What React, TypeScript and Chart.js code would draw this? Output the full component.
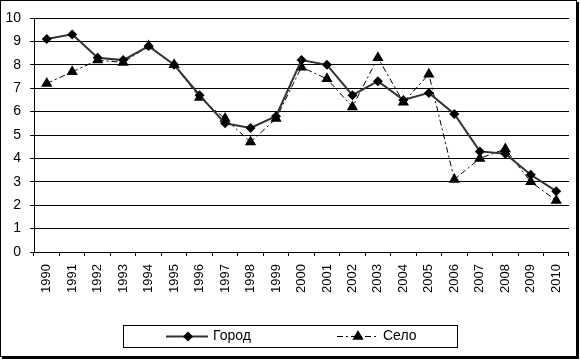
import React, { useEffect, useRef } from "react";
import { Chart, registerables } from "chart.js";

Chart.register(...registerables);

const years = ["1990","1991","1992","1993","1994","1995","1996","1997","1998","1999","2000","2001","2002","2003","2004","2005","2006","2007","2008","2009","2010"];
const gorod = [9.1, 9.3, 8.3, 8.2, 8.8, 8.0, 6.7, 5.5, 5.3, 5.8, 8.2, 8.0, 6.7, 7.3, 6.5, 6.8, 5.9, 4.3, 4.2, 3.3, 2.6];
const selo = [7.2, 7.7, 8.2, 8.1, 8.8, 8.0, 6.6, 5.7, 4.7, 5.7, 7.9, 7.4, 6.2, 8.3, 6.4, 7.6, 3.1, 4.0, 4.4, 3.0, 2.2];
const seriesNames = ["Город", "Село"];

const FONT = "'Liberation Sans', Arial, sans-serif";

function drawMarker(ctx: CanvasRenderingContext2D, style: string, x: number, y: number, r: number) {
  ctx.beginPath();
  if (style === "rectRot") {
    ctx.moveTo(x, y - r);
    ctx.lineTo(x + r, y);
    ctx.lineTo(x, y + r);
    ctx.lineTo(x - r, y);
  } else {
    const h = r * 1.5;
    const w = r * Math.sqrt(3);
    ctx.moveTo(x, y - r);
    ctx.lineTo(x + w / 2, y - r + h);
    ctx.lineTo(x - w / 2, y - r + h);
  }
  ctx.closePath();
  ctx.fill();
}

const framePlugin = {
  id: "frameAndLegend",
  afterDraw(chart: any) {
    const ctx: CanvasRenderingContext2D = chart.ctx;
    ctx.save();
    // outer frame with shadow
    ctx.strokeStyle = "#000";
    ctx.lineWidth = 1;
    ctx.strokeRect(0.5, 0.5, 576, 356);
    ctx.fillStyle = "#000";
    ctx.fillRect(576, 2, 3, 357);
    ctx.fillRect(2, 356, 577, 3);
    // legend box
    ctx.strokeRect(123.5, 325.5, 334, 22);
    const items = [
      { x1: 166, x2: 208, mx: 188, tx: 213 },
      { x1: 337, x2: 378, mx: 358, tx: 383 },
    ];
    const y = 336.5;
    chart.data.datasets.forEach((ds: any, i: number) => {
      const it = items[i];
      ctx.save();
      ctx.strokeStyle = ds.borderColor;
      ctx.lineWidth = ds.borderWidth;
      ctx.setLineDash(ds.borderDash || []);
      ctx.beginPath();
      ctx.moveTo(it.x1, y);
      ctx.lineTo(it.x2, y);
      ctx.stroke();
      ctx.restore();
      ctx.fillStyle = "#000";
      drawMarker(ctx, ds.pointStyle, it.mx, y, ds.pointRadius);
      ctx.fillStyle = "#000";
      ctx.font = `14px ${FONT}`;
      ctx.textBaseline = "middle";
      ctx.textAlign = "left";
      ctx.fillText(ds.label, it.tx, y);
    });
    ctx.restore();
  },
};

export default function App() {
  const ref = useRef<HTMLCanvasElement>(null);
  useEffect(() => {
    if (!ref.current) return;
    const chart = new Chart(ref.current, {
      type: "line",
      data: {
        labels: years,
        datasets: [
          {
            label: seriesNames[0],
            data: gorod,
            borderColor: "#333",
            borderWidth: 2,
            pointStyle: "rectRot",
            pointRadius: 5,
            pointBackgroundColor: "#000",
            pointBorderColor: "#000",
            pointBorderWidth: 0,
            tension: 0,
          },
          {
            label: seriesNames[1],
            data: selo,
            borderColor: "#000",
            borderWidth: 1,
            borderDash: [6, 3, 2, 3],
            pointStyle: "triangle",
            pointRadius: 6.5,
            pointBackgroundColor: "#000",
            pointBorderColor: "#000",
            pointBorderWidth: 0,
            tension: 0,
          },
        ],
      },
      options: {
        responsive: false,
        animation: false,
        layout: { padding: { top: 18, right: 7, bottom: 49, left: 0 } },
        plugins: { legend: { display: false }, tooltip: { enabled: false } },
        scales: {
          x: {
            offset: true,
            grid: { drawOnChartArea: false, drawTicks: true, tickLength: 4, color: "#000", offset: true },
            border: { color: "#000" },
            ticks: { color: "#000", font: { family: FONT, size: 13 }, minRotation: 90, maxRotation: 90, autoSkip: false, padding: 8 },
            afterFit: (s: any) => { s.height = 60; },
          },
          y: {
            min: 0,
            max: 10,
            grid: { color: "#000", tickLength: 4 },
            border: { color: "#000" },
            ticks: { stepSize: 1, color: "#000", font: { family: FONT, size: 14 }, padding: 9 },
            afterFit: (s: any) => { s.width = 34; },
          },
        },
      },
      plugins: [framePlugin],
    });
    return () => chart.destroy();
  }, []);
  return (
    <div style={{ position: "fixed", left: 0, top: 0, width: 580, height: 361, background: "#fff" }}>
      <canvas ref={ref} width={580} height={361} style={{ display: "block" }} />
    </div>
  );
}
